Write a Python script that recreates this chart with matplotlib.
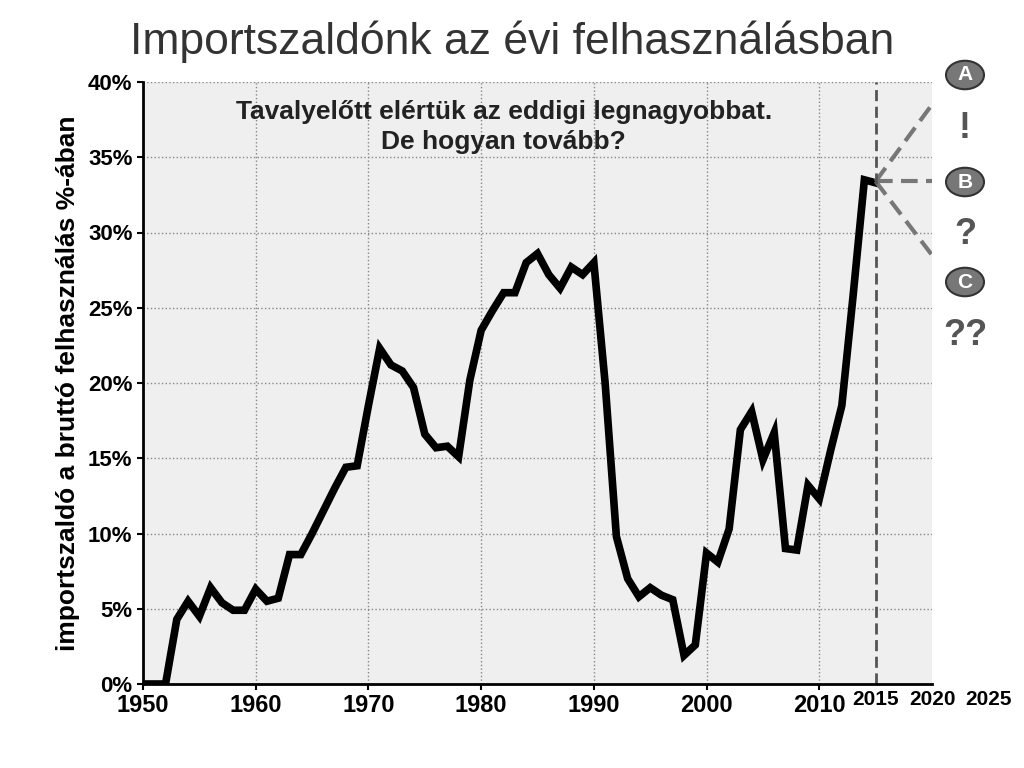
import matplotlib
matplotlib.use("Agg")
import matplotlib.pyplot as plt
from matplotlib.patches import Circle

plt.rcParams['font.family'] = ['Liberation Sans', 'DejaVu Sans']

years = list(range(1950, 2016))
values = [0, 0, 0, 4.3, 5.5, 4.5, 6.4, 5.4, 4.9, 4.9,
          6.3, 5.5, 5.7, 8.6, 8.6, 10.0, 11.5, 13.0, 14.4, 14.5,
          18.5, 22.3, 21.2, 20.8, 19.7, 16.6, 15.7, 15.8, 15.1, 20.2,
          23.5, 24.8, 26.0, 26.0, 28.0, 28.6, 27.2, 26.3, 27.7, 27.2,
          28.0, 20.0, 9.8, 7.0, 5.8, 6.4, 5.9, 5.6, 1.9, 2.6,
          8.7, 8.1, 10.3, 16.9, 18.1, 14.9, 16.7, 9.0, 8.9, 13.2,
          12.3, 15.5, 18.5, 25.8, 33.5, 33.3]
proj_years = [2015, 2020]
proj_A = [33.4, 38.5]
proj_B = [33.4, 33.4]
proj_C = [33.4, 28.5]
xticks = [1950, 1960, 1970, 1980, 1990, 2000, 2010]
yticks = [0, 5, 10, 15, 20, 25, 30, 35, 40]

fig = plt.figure(figsize=(10.24, 7.68), dpi=100)
fig.patch.set_facecolor("white")
ax = fig.add_axes([143/1024, 1-684/768, (932-143)/1024, (684-82)/768])
ax.set_facecolor("#efefef")
ax.plot(years, values, color="black", lw=5.5, solid_joinstyle="miter")
for p in (proj_A, proj_B, proj_C):
    ax.plot(proj_years, p, color="#777777", lw=3, ls=(0, (4, 2)))
ax.axvline(2015, color="#555555", lw=2, ls=(0, (4, 2)))
ax.set_xlim(1950, 2020)
ax.set_ylim(0, 40)
ax.set_xticks(xticks)
ax.set_xticklabels([str(x) for x in xticks], fontsize=17, fontweight="bold")
ax.set_yticks(yticks)
ax.set_yticklabels([f"{y}%" for y in yticks], fontsize=16, fontweight="bold")
ax.grid(True, color="#888888", ls=":", lw=1)
for s in ax.spines.values():
    s.set_visible(False)
ax.spines["left"].set_visible(True)
ax.spines["bottom"].set_visible(True)
ax.spines["left"].set_linewidth(2)
ax.spines["bottom"].set_linewidth(2)
ax.tick_params(length=4, width=1.5)
for yr in (2015, 2020, 2025):
    ax.text(yr, -1.0, str(yr), transform=ax.transData, ha="center", va="center",
            fontsize=15, fontweight="bold", clip_on=False)
ax.set_ylabel("importszaldó a bruttó felhasználás %-ában", fontsize=19, fontweight="bold", labelpad=6)
ax.text(1982, 37, "Tavalyelőtt elértük az eddigi legnagyobbat.\nDe hogyan tovább?",
        ha="center", va="center", fontsize=19, fontweight="bold", color="#222222",
        linespacing=1.3)
fig.text(0.5, 0.945, "Importszaldónk az évi felhasználásban", ha="center", va="center",
         fontsize=32, color="#333333")
for lab, yc, mark in (("A", 75, "!"), ("B", 182, "?"), ("C", 282, "??")):
    xc = 965
    c = Circle((xc/1024, 1-yc/768), 19/1024, transform=fig.transFigure,
               facecolor="#777777", edgecolor="#333333", lw=1.5)
    fig.add_artist(c)
    fig.text(xc/1024, 1-yc/768, lab, ha="center", va="center", fontsize=15,
             fontweight="bold", color="white")
    fig.text(xc/1024, 1-(yc+53)/768, mark, ha="center", va="center", fontsize=26,
             fontweight="bold", color="#555555")
fig.savefig("out.png", dpi=100)
